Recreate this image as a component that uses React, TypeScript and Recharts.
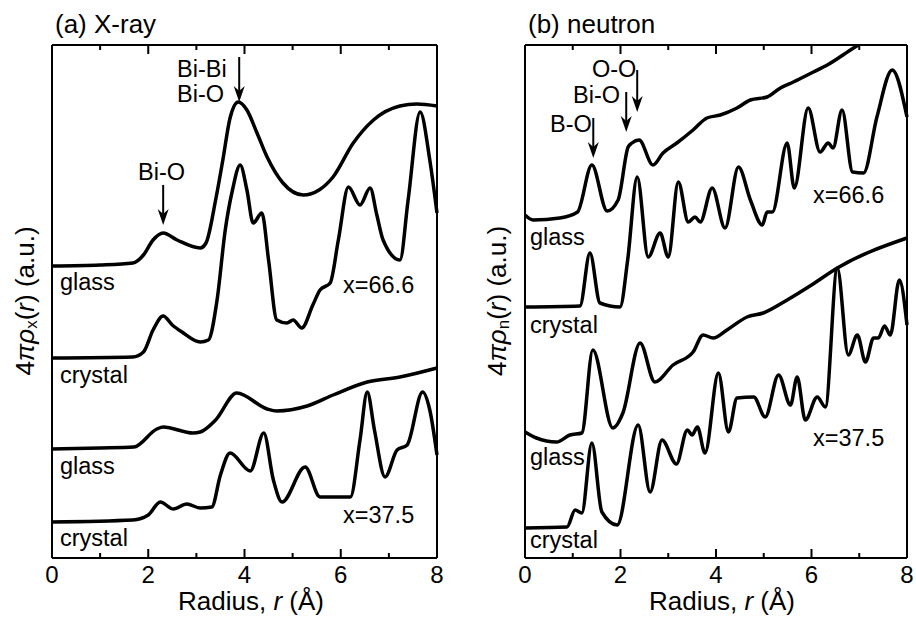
import React from "react";
import { LineChart, Line, XAxis, YAxis, ReferenceLine } from "recharts";

// r (Å), height in a.u. (offset included)
const xrayGlass66 = [
  [0, 292], [1.0, 293], [1.68, 295], [1.9, 303], [2.1, 318], [2.31, 325], [2.6, 318],
  [3.08, 310], [3.2, 315], [3.4, 358], [3.55, 398], [3.7, 440], [3.87, 456], [4.05, 448],
  [4.26, 425], [4.47, 401], [4.8, 375], [5.22, 363], [5.55, 368], [5.84, 381], [6.26, 415],
  [6.68, 438], [7.23, 452], [7.58, 454], [8.0, 452],
];
const xrayCrystal66 = [
  [0, 200], [1.68, 201], [1.9, 206], [2.1, 228], [2.31, 242], [2.5, 233], [2.7, 226],
  [3.08, 216], [3.25, 218], [3.43, 258], [3.6, 328], [3.75, 368], [3.91, 393], [4.05, 368],
  [4.18, 335], [4.36, 345], [4.5, 298], [4.67, 238], [4.88, 235], [5.01, 238], [5.19, 230],
  [5.42, 253], [5.57, 268], [5.78, 275], [5.95, 318], [6.16, 371], [6.4, 353], [6.61, 370],
  [6.75, 343], [6.88, 318], [7.23, 298], [7.4, 358], [7.65, 446], [7.85, 398], [8.0, 345],
];
const xrayGlass37 = [
  [0, 109], [1.0, 110], [1.7, 111], [2.18, 129], [2.31, 131], [2.93, 125], [3.08, 126],
  [3.4, 138], [3.84, 165], [4.47, 149], [4.67, 147], [5.3, 152], [5.84, 163], [6.55, 176],
  [7.23, 181], [8.0, 190],
];
const xrayCrystal37 = [
  [0, 36], [1.68, 38], [2.0, 43], [2.25, 56], [2.52, 49], [2.8, 54], [3.08, 50], [3.32, 51],
  [3.5, 83], [3.7, 105], [4.12, 87], [4.4, 125], [4.6, 78], [4.78, 56], [5.26, 91], [5.57, 61],
  [6.2, 61], [6.4, 118], [6.55, 166], [6.7, 128], [6.92, 81], [7.17, 108], [7.38, 113],
  [7.7, 166], [7.85, 148], [8.0, 103],
];

const neutronGlass66 = [
  [0, 343], [0.17, 338], [0.73, 340], [1.1, 346], [1.4, 393], [1.72, 347], [1.95, 358],
  [2.16, 411], [2.24, 415], [2.39, 418], [2.68, 393], [2.89, 405], [3.18, 415], [3.52, 428],
  [3.81, 440], [4.09, 443], [4.44, 450], [4.72, 458], [5.07, 461], [5.35, 470], [5.62, 476],
  [6.04, 486], [6.33, 493], [6.88, 510], [7.5, 528], [8.0, 543],
];
const neutronCrystal66 = [
  [0, 251], [1.15, 252], [1.36, 305], [1.57, 255], [1.99, 251], [2.15, 298], [2.35, 381],
  [2.58, 301], [2.83, 325], [3.0, 301], [3.21, 376], [3.42, 336], [3.56, 341], [3.67, 336],
  [3.92, 370], [4.19, 330], [4.47, 391], [4.72, 358], [4.97, 333], [5.07, 346], [5.18, 346],
  [5.49, 415], [5.64, 370], [5.93, 450], [6.18, 406], [6.35, 415], [6.45, 410], [6.64, 448],
  [6.86, 386], [7.09, 385], [7.37, 441], [7.69, 488], [8.0, 441],
];
const neutronGlass37 = [
  [0, 126], [0.24, 120], [0.66, 116], [0.94, 123], [1.19, 125], [1.42, 208], [1.84, 130],
  [2.05, 145], [2.41, 215], [2.72, 176], [3.1, 193], [3.52, 206], [3.73, 223], [3.94, 220],
  [4.23, 228], [4.65, 241], [4.99, 245], [5.49, 258], [6.0, 273], [6.54, 290], [8.0, 320],
];
const neutronCrystal37 = [
  [0, 30], [0.88, 31], [1.05, 48], [1.19, 45], [1.4, 115], [1.61, 46], [1.93, 33],
  [2.37, 133], [2.62, 66], [2.87, 118], [3.17, 94], [3.4, 128], [3.5, 123], [3.61, 131],
  [3.77, 105], [4.05, 185], [4.26, 126], [4.44, 160], [4.79, 161], [5.03, 141], [5.31, 183],
  [5.56, 153], [5.7, 181], [5.87, 138], [6.12, 161], [6.29, 151], [6.54, 290], [6.77, 203],
  [6.96, 223], [7.13, 196], [7.3, 220], [7.4, 220], [7.53, 232], [7.65, 223], [7.84, 278],
  [8.0, 233],
];

const rTicks = [0, 1, 2, 3, 4, 5, 6, 7, 8];
const yDomain = [0, 513];

const FONT = "'Liberation Sans', Arial, Helvetica, sans-serif";

const toPts = (arr: number[][]) => arr.map(([r, h]) => ({ r, h }));

const BottomTick = (props: any) => {
  const { x, y, payload } = props;
  const major = payload.value % 2 === 0;
  const inner = payload.value > 0 && payload.value < 8;
  return (
    <g>
      {inner && (
        <line x1={x} x2={x} y1={y} y2={y - (major ? 9 : 5)} stroke="#000" strokeWidth={2} />
      )}
      {major && (
        <text x={x} y={y + 25} textAnchor="middle" fontSize={24} fontFamily={FONT} fill="#000">
          {payload.value}
        </text>
      )}
    </g>
  );
};

// inward tick hanging from the top frame line
const TopTickShape = (props: any) => {
  const { x1, y1, x2, y2 } = props;
  return <line x1={x1} y1={y1} x2={x2} y2={y2} stroke="#000" strokeWidth={2} />;
};

const Arrow = (props: any) => {
  const { x1, y1, x2, y2 } = props;
  return (
    <g>
      <line x1={x1} y1={y1} x2={x2} y2={y2 - 8} stroke="#000" strokeWidth={2} />
      <polygon
        points={`${x2},${y2} ${x2 - 5.5},${y2 - 16} ${x2},${y2 - 11} ${x2 + 5.5},${y2 - 16}`}
        fill="#000"
      />
    </g>
  );
};

type Panel = {
  left: number;
  width: number;
  margin: { top: number; right: number; bottom: number; left: number };
  series: number[][][];
  arrows: { r: number; from: number; to: number }[];
};

function PdfPanel({ left, width, margin, series, arrows }: Panel) {
  const axisLine = { stroke: "#000", strokeWidth: 2 };
  const top = yDomain[1];
  return (
    <div style={{ position: "absolute", left, top: 0 }}>
      <LineChart width={width} height={618} margin={margin}>
        <XAxis
          dataKey="r"
          type="number"
          domain={[0, 8]}
          ticks={rTicks}
          interval={0}
          height={30}
          tickSize={0}
          tickMargin={0}
          tickLine={false}
          axisLine={axisLine}
          tick={<BottomTick />}
        />
        <XAxis
          xAxisId="top"
          orientation="top"
          dataKey="r"
          type="number"
          domain={[0, 8]}
          ticks={rTicks}
          height={1}
          tick={false}
          tickLine={false}
          axisLine={axisLine}
        />
        <YAxis
          type="number"
          domain={yDomain}
          allowDataOverflow
          width={1}
          tick={false}
          tickLine={false}
          axisLine={axisLine}
        />
        <YAxis
          yAxisId="right"
          orientation="right"
          type="number"
          domain={yDomain}
          width={1}
          tick={false}
          tickLine={false}
          axisLine={axisLine}
        />
        {rTicks.slice(1, -1).map((t) => (
          <ReferenceLine
            key={"t" + t}
            segment={[{ x: t, y: top }, { x: t, y: top - (t % 2 === 0 ? 9 : 5) }]}
            shape={<TopTickShape />}
          />
        ))}
        {series.map((s, i) => (
          <Line
            key={i}
            data={toPts(s)}
            dataKey="h"
            type="monotone"
            stroke="#000"
            strokeWidth={3.5}
            dot={false}
            isAnimationActive={false}
          />
        ))}
        {arrows.map((a, i) => (
          <ReferenceLine
            key={"a" + i}
            segment={[{ x: a.r, y: a.from }, { x: a.r, y: a.to }]}
            shape={<Arrow />}
          />
        ))}
      </LineChart>
    </div>
  );
}

const T = ({ x, y, children, size = 23.5 }: any) => (
  <text x={x} y={y} fontSize={size} fontFamily={FONT} fill="#000">
    {children}
  </text>
);

const YLabel = ({ cx, cy, sub }: { cx: number; cy: number; sub: string }) => (
  <text
    transform={`translate(${cx},${cy}) rotate(-90)`}
    textAnchor="middle"
    fontSize={26}
    fontFamily={FONT}
    fill="#000"
    dominantBaseline="central"
  >
    4<tspan fontStyle="italic">πρ</tspan>
    <tspan fontSize={17} dy={6}>{sub}</tspan>
    <tspan dy={-6}>(</tspan>
    <tspan fontStyle="italic">r</tspan>) (a.u.)
  </text>
);

export default function App() {
  return (
    <div
      style={{
        position: "absolute",
        left: 0,
        top: 0,
        width: 916,
        height: 618,
        background: "#fff",
        overflow: "hidden",
      }}
    >
      <PdfPanel
        left={0}
        width={460}
        margin={{ top: 44, right: 22, bottom: 30, left: 51 }}
        series={[xrayGlass66, xrayCrystal66, xrayGlass37, xrayCrystal37]}
        arrows={[
          { r: 2.31, from: 373, to: 333 },
          { r: 3.89, from: 501, to: 456 },
        ]}
      />
      <PdfPanel
        left={460}
        width={456}
        margin={{ top: 44, right: 8, bottom: 30, left: 64 }}
        series={[neutronGlass66, neutronCrystal66, neutronGlass37, neutronCrystal37]}
        arrows={[
          { r: 2.35, from: 488, to: 446 },
          { r: 2.12, from: 466, to: 426 },
          { r: 1.43, from: 440, to: 400 },
        ]}
      />
      <svg
        width={916}
        height={618}
        style={{ position: "absolute", left: 0, top: 0, pointerEvents: "none" }}
      >
        <T x={55} y={33} size={26}>(a) X-ray</T>
        <T x={528} y={33} size={26}>(b) neutron</T>

        <T x={138} y={180}>Bi-O</T>
        <T x={177} y={77}>Bi-Bi</T>
        <T x={177} y={102}>Bi-O</T>
        <T x={60} y={290}>glass</T>
        <T x={343} y={293}>x=66.6</T>
        <T x={60} y={383}>crystal</T>
        <T x={60} y={474}>glass</T>
        <T x={343} y={523}>x=37.5</T>
        <T x={60} y={546}>crystal</T>

        <T x={592} y={77}>O-O</T>
        <T x={573} y={103}>Bi-O</T>
        <T x={550} y={132}>B-O</T>
        <T x={530} y={245}>glass</T>
        <T x={813} y={203}>x=66.6</T>
        <T x={530} y={333}>crystal</T>
        <T x={530} y={465}>glass</T>
        <T x={813} y={446}>x=37.5</T>
        <T x={530} y={548}>crystal</T>

        <text x={251} y={610} textAnchor="middle" fontSize={26} fontFamily={FONT} fill="#000">
          Radius, <tspan fontStyle="italic">r</tspan> (Å)
        </text>
        <text x={722} y={610} textAnchor="middle" fontSize={26} fontFamily={FONT} fill="#000">
          Radius, <tspan fontStyle="italic">r</tspan> (Å)
        </text>

        <YLabel cx={25} cy={301} sub="x" />
        <YLabel cx={497} cy={301} sub="n" />
      </svg>
    </div>
  );
}
